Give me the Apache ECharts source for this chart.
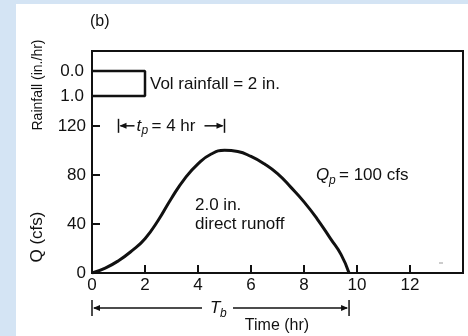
<!DOCTYPE html>
<html><head><meta charset="utf-8">
<script src="https://cdn.jsdelivr.net/npm/echarts@6/dist/echarts.min.js"></script>
<style>html,body{margin:0;padding:0;background:#d4e4f4;}#c{width:468px;height:336px;}</style>
</head><body><div id="c"></div>
<script>
// ---- data ----
const timeHr  = [0, 0.5, 1, 1.5, 2, 2.5, 3, 3.5, 4, 4.5, 5, 5.5, 6, 6.5, 7, 7.5, 8, 8.5, 9, 9.4, 9.7];
const flowCfs = [0, 4, 10, 18, 28, 43, 61, 77, 89, 97, 100, 99, 95, 89, 81, 70, 58, 44, 28, 15, 0];
const rainTime = [0, 2];          // hr
const rainRate = 1.0;             // in./hr
const xTickVals = [0, 2, 4, 6, 8, 10, 12];
const qTickVals = [0, 40, 80, 120];
const rainTickVals = [0, 1];
const tpStart = 1, tpEnd = 5;     // t_p = 4 hr
const tbEnd = 9.7;                // T_b

const FONT = 'Liberation Sans';
const chart = echarts.init(document.getElementById('c'), null, {renderer: 'canvas'});

const rainPoly = [[rainTime[0], 0], [rainTime[1], 0], [rainTime[1], rainRate], [rainTime[0], rainRate]];

chart.setOption({
  backgroundColor: '#d4e4f4',
  animation: false,
  grid: {left: 92, top: 51, width: 371, height: 222, show: true, borderColor: '#111', borderWidth: 2, backgroundColor: 'transparent'},
  xAxis: {
    type: 'value', min: 0, max: 14, interval: 2,
    axisLine: {show: true, onZero: false, lineStyle: {color: '#111', width: 2}},
    axisTick: {show: true, inside: true, length: 8, customValues: xTickVals.slice(1), lineStyle: {color: '#111', width: 2}},
    axisLabel: {customValues: xTickVals, color: '#111', fontSize: 17, fontFamily: FONT, margin: 4},
    splitLine: {show: false}
  },
  yAxis: [{
    type: 'value', min: 0, max: 181, interval: 40, position: 'left',
    axisLine: {show: true, lineStyle: {color: '#111', width: 2}},
    axisTick: {show: true, inside: true, length: 8, customValues: qTickVals.slice(1), lineStyle: {color: '#111', width: 2}},
    axisLabel: {customValues: qTickVals, color: '#111', fontSize: 17, fontFamily: FONT, margin: 6},
    splitLine: {show: false}
  }, {
    type: 'value', inverse: true, min: -0.8, max: 8.08, position: 'left',
    axisLine: {show: false}, axisTick: {show: false},
    axisLabel: {customValues: rainTickVals, formatter: v => v.toFixed(1), color: '#111', fontSize: 17, fontFamily: FONT, margin: 8},
    splitLine: {show: false}
  }],
  series: [{
    type: 'line', xAxisIndex: 0, yAxisIndex: 0, smooth: 0.5, showSymbol: false,
    data: timeHr.map((t, i) => [t, flowCfs[i]]),
    lineStyle: {color: '#111', width: 3}, z: 5
  }, {
    type: 'line', xAxisIndex: 0, yAxisIndex: 1, showSymbol: false,
    data: rainPoly,
    lineStyle: {color: '#111', width: 2.5}, z: 5
  }]
});

const P = (x, y) => chart.convertToPixel({xAxisIndex: 0, yAxisIndex: 0}, [x, y]);
const PR = (x, y) => chart.convertToPixel({xAxisIndex: 0, yAxisIndex: 1}, [x, y]);

function txt(x, y, s, size, opts) {
  opts = opts || {};
  return {type: 'text', x: x, y: y, rotation: opts.rot || 0, z: 10,
    style: {text: s, fill: '#111', font: (opts.italic ? 'italic ' : '') + size + 'px ' + FONT,
      align: opts.align || 'left', verticalAlign: 'middle', textAlign: opts.align || 'left', textVerticalAlign: 'middle'}};
}
function line(x1, y1, x2, y2, w) {
  return {type: 'line', z: 10, shape: {x1, y1, x2, y2}, style: {stroke: '#111', lineWidth: w || 1.5}};
}
function head(x, y, dir) {
  return {type: 'polygon', z: 10, shape: {points: [[x, y], [x - dir * 7, y - 3], [x - dir * 7, y + 3]]}, style: {fill: '#111'}};
}

const g = [];
g.push({type: 'rect', z: -10, shape: {x: 16, y: 4, width: 452, height: 332}, style: {fill: '#ffffff'}});
g.push(txt(90, 22, '(b)', 16));
g.push(txt(38, 85, 'Rainfall (in./hr)', 14, {rot: Math.PI / 2, align: 'center'}));
g.push(txt(37, 237, 'Q (cfs)', 17, {rot: Math.PI / 2, align: 'center'}));
const rv = PR(rainTime[1], rainRate / 2 * 1.1);
g.push(txt(rv[0] + 5, rv[1], 'Vol rainfall = 2 in.', 17));
// t_p annotation
const a = P(tpStart, 120), b = P(tpEnd, 120);
const ty = a[1];
g.push(line(a[0], ty - 7, a[0], ty + 7, 1.5));
g.push(line(b[0], ty - 7, b[0], ty + 7, 1.5));
g.push(line(a[0] + 2, ty, a[0] + 16, ty, 1.5));
g.push(head(a[0] + 1, ty, -1));
g.push(txt(a[0] + 18, ty, 't', 17, {italic: true}));
g.push(txt(a[0] + 23, ty + 5, 'p', 12, {italic: true}));
g.push(txt(a[0] + 33, ty, '= 4 hr', 17));
g.push(line(a[0] + 86, ty, b[0] - 2, ty, 1.5));
g.push(head(b[0] - 1, ty, 1));
// Q_p label
const qp = P(8.5, 80);
g.push(txt(316, qp[1], 'Q', 17, {italic: true}));
g.push(txt(329, qp[1] + 6, 'p', 12, {italic: true}));
g.push(txt(339, qp[1], '= 100 cfs', 17));
// runoff label
g.push(txt(195, 205, '2.0 in.', 17));
g.push(txt(195, 224, 'direct runoff', 17));
// T_b annotation
const t0 = P(0, 0), t1 = P(tbEnd, 0);
const by = 308;
g.push(line(t0[0], by - 8, t0[0], by + 8, 1.5));
g.push(line(t1[0], by - 8, t1[0], by + 8, 1.5));
g.push(line(t0[0] + 2, by, 202, by, 1.5));
g.push(head(t0[0] + 1, by, -1));
g.push(txt(210, by, 'T', 17, {italic: true}));
g.push(txt(220, by + 6, 'b', 12, {italic: true}));
g.push(line(233, by, t1[0] - 2, by, 1.5));
g.push(head(t1[0] - 1, by, 1));
g.push(txt(277, 326, 'Time (hr)', 16, {align: 'center'}));
g.push({type: 'line', z: 10, shape: {x1: 439, y1: 263, x2: 443, y2: 263}, style: {stroke: '#999', lineWidth: 1}});

chart.setOption({graphic: g});
</script>
</body></html>
